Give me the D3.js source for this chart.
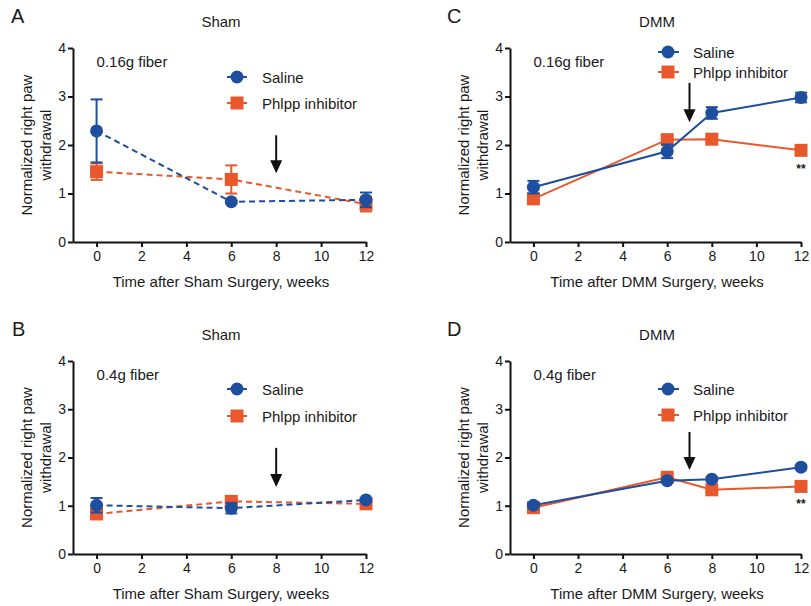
<!DOCTYPE html>
<html>
<head>
<meta charset="utf-8">
<script src="https://cdn.jsdelivr.net/npm/d3@7.9.0/dist/d3.min.js"></script>
<style>
  body { margin: 0; background: #fff; }
  svg text { font-family: "Liberation Sans", Arial, Helvetica, sans-serif; fill: #1a1a1a; }
  .axis path, .axis line { stroke: #111; stroke-width: 2; }
  .axis text { font-size: 14px; fill: #1a1a1a; }
</style>
</head>
<body>
<svg id="fig" width="811" height="606"></svg>
<script>
// weeks after surgery
const weeksSham = [0, 6, 12];
const weeksDMM = [0, 6, 8, 12];

// A: Sham, 0.16g fiber
const shamA_saline = [2.29, 0.83, 0.87];
const shamA_salineErr = [0.65, 0.03, 0.15];
const shamA_phlpp = [1.45, 1.29, 0.78];
const shamA_phlppErr = [0.17, 0.29, 0.15];

// C: DMM, 0.16g fiber
const dmmC_saline = [1.13, 1.87, 2.66, 2.98];
const dmmC_salineErr = [0.13, 0.14, 0.12, 0.1];
const dmmC_phlpp = [0.89, 2.11, 2.12, 1.89];
const dmmC_phlppErr = [0.05, 0.05, 0.05, 0.05];

// B: Sham, 0.4g fiber
const shamB_saline = [1.01, 0.95, 1.12];
const shamB_salineErr = [0.15, 0.11, 0.04];
const shamB_phlpp = [0.83, 1.09, 1.04];
const shamB_phlppErr = [0.05, 0.05, 0.04];

// D: DMM, 0.4g fiber
const dmmD_saline = [1.01, 1.52, 1.55, 1.80];
const dmmD_salineErr = [0.05, 0.04, 0.04, 0.04];
const dmmD_phlpp = [0.96, 1.59, 1.33, 1.40];
const dmmD_phlppErr = [0.04, 0.04, 0.04, 0.04];

const xTicks = [0, 2, 4, 6, 8, 10, 12];
const yTicks = [0, 1, 2, 3, 4];
const seriesNames = ["Saline", "Phlpp inhibitor"];

const blue = "#1d4f9e";
const orange = "#e8582c";

const svg = d3.select("#fig");

function zip(xs, ys, es) {
  return xs.map((x, i) => ({x: x, y: ys[i], e: es[i]}));
}

function drawPanel(p) {
  const g = svg.append("g");
  const x = d3.scaleLinear().domain([-1.05, 12]).range([p.left, p.left + p.w]);
  const y = d3.scaleLinear().domain([0, 4]).range([p.bottom, p.top]);

  // axes
  g.append("g").attr("class", "axis")
    .attr("transform", `translate(0,${p.bottom})`)
    .call(d3.axisBottom(x).tickValues(xTicks).tickFormat(d3.format("d"))
      .tickSize(5).tickSizeOuter(0).tickPadding(4));
  g.append("g").attr("class", "axis")
    .attr("transform", `translate(${p.left},0)`)
    .call(d3.axisLeft(y).tickValues(yTicks).tickFormat(d3.format("d"))
      .tickSize(5).tickSizeOuter(0).tickPadding(2));

  // panel letter + title
  g.append("text").attr("x", p.letterX).attr("y", p.top - 25)
    .attr("font-size", 20).text(p.letter);
  g.append("text").attr("x", p.titleX).attr("y", p.top - 21)
    .attr("text-anchor", "middle").attr("font-size", 15).text(p.title);

  // axis titles
  g.append("text").attr("x", p.titleX).attr("y", p.bottom + 45)
    .attr("text-anchor", "middle").attr("font-size", 15).text(p.xLabel);
  const yl = g.append("text")
    .attr("transform", `translate(${p.left - 41},${(p.top + p.bottom) / 2}) rotate(-90)`)
    .attr("text-anchor", "middle").attr("font-size", 15);
  yl.append("tspan").attr("x", 0).attr("dy", 0).text("Normalized right paw");
  yl.append("tspan").attr("x", 0).attr("dy", 19).text("withdrawal");

  // fiber annotation
  g.append("text").attr("x", x(0)).attr("y", p.top + 19)
    .attr("font-size", 15).text(p.note);

  // arrow
  const ax = x(p.arrow[0]), ay1 = y(p.arrow[1]), ay2 = y(p.arrow[2]);
  g.append("line").attr("x1", ax).attr("x2", ax).attr("y1", ay1).attr("y2", ay2 - 10)
    .attr("stroke", "#111").attr("stroke-width", 2);
  g.append("path").attr("d", `M${ax - 6},${ay2 - 13} L${ax + 6},${ay2 - 13} L${ax},${ay2} Z`)
    .attr("fill", "#111");

  const dash = p.dashed ? "6,4" : null;
  const line = d3.line().x(d => x(d.x)).y(d => y(d.y));

  p.series.slice().reverse().forEach(s => {
    const sg = g.append("g");
    sg.append("path").datum(s.data).attr("d", line)
      .attr("fill", "none").attr("stroke", s.color).attr("stroke-width", 2)
      .attr("stroke-dasharray", dash);
    // error bars
    const eb = sg.selectAll(".eb").data(s.data).join("g");
    eb.append("line").attr("x1", d => x(d.x)).attr("x2", d => x(d.x))
      .attr("y1", d => y(d.y - d.e)).attr("y2", d => y(d.y + d.e))
      .attr("stroke", s.color).attr("stroke-width", 2);
    eb.append("line").attr("x1", d => x(d.x) - 6).attr("x2", d => x(d.x) + 6)
      .attr("y1", d => y(d.y + d.e)).attr("y2", d => y(d.y + d.e))
      .attr("stroke", s.color).attr("stroke-width", 2);
    eb.append("line").attr("x1", d => x(d.x) - 6).attr("x2", d => x(d.x) + 6)
      .attr("y1", d => y(d.y - d.e)).attr("y2", d => y(d.y - d.e))
      .attr("stroke", s.color).attr("stroke-width", 2);
    // markers
    if (s.shape === "circle") {
      sg.selectAll(".m").data(s.data).join("circle")
        .attr("cx", d => x(d.x)).attr("cy", d => y(d.y)).attr("r", 6.5)
        .attr("fill", s.color);
    } else {
      sg.selectAll(".m").data(s.data).join("rect")
        .attr("x", d => x(d.x) - 6.5).attr("y", d => y(d.y) - 6.5)
        .attr("width", 13).attr("height", 13).attr("fill", s.color);
    }
  });

  // significance stars
  if (p.stars) {
    g.append("text").attr("x", x(12)).attr("y", y(p.stars) + 5)
      .attr("text-anchor", "middle").attr("font-size", 12).attr("font-weight", "bold")
      .text("**");
  }

  // legend
  p.series.forEach((s, i) => {
    const ly = p.legendY[i];
    g.append("line").attr("x1", p.legendX - 10).attr("x2", p.legendX + 11)
      .attr("y1", ly).attr("y2", ly).attr("stroke", s.color).attr("stroke-width", 2)
      .attr("stroke-dasharray", p.dashed ? "4,4" : null);
    if (s.shape === "circle") {
      g.append("circle").attr("cx", p.legendX).attr("cy", ly).attr("r", 6.5).attr("fill", s.color);
    } else {
      g.append("rect").attr("x", p.legendX - 6.5).attr("y", ly - 6.5)
        .attr("width", 13).attr("height", 13).attr("fill", s.color);
    }
    g.append("text").attr("x", p.legendX + 25).attr("y", ly + 5.5)
      .attr("font-size", 15).text(seriesNames[i]);
  });
}

const panels = [
  {letter: "A", letterX: 11, title: "Sham", titleX: 221, left: 73, w: 293, top: 48, bottom: 242,
   xLabel: "Time after Sham Surgery, weeks", note: "0.16g fiber", dashed: true,
   arrow: [8, 2.2, 1.42], legendX: 237, legendY: [77, 103], stars: null,
   series: [
     {shape: "circle", color: blue, data: zip(weeksSham, shamA_saline, shamA_salineErr)},
     {shape: "square", color: orange, data: zip(weeksSham, shamA_phlpp, shamA_phlppErr)}
   ]},
  {letter: "C", letterX: 447, title: "DMM", titleX: 657, left: 510, w: 291, top: 48, bottom: 242,
   xLabel: "Time after DMM Surgery, weeks", note: "0.16g fiber", dashed: false,
   arrow: [7, 3.28, 2.47], legendX: 668, legendY: [52, 72], stars: 1.53,
   series: [
     {shape: "circle", color: blue, data: zip(weeksDMM, dmmC_saline, dmmC_salineErr)},
     {shape: "square", color: orange, data: zip(weeksDMM, dmmC_phlpp, dmmC_phlppErr)}
   ]},
  {letter: "B", letterX: 12, title: "Sham", titleX: 221, left: 73, w: 293, top: 361, bottom: 554,
   xLabel: "Time after Sham Surgery, weeks", note: "0.4g fiber", dashed: true,
   arrow: [8, 2.2, 1.39], legendX: 237, legendY: [389, 416], stars: null,
   series: [
     {shape: "circle", color: blue, data: zip(weeksSham, shamB_saline, shamB_salineErr)},
     {shape: "square", color: orange, data: zip(weeksSham, shamB_phlpp, shamB_phlppErr)}
   ]},
  {letter: "D", letterX: 447, title: "DMM", titleX: 657, left: 510, w: 291, top: 361, bottom: 554,
   xLabel: "Time after DMM Surgery, weeks", note: "0.4g fiber", dashed: false,
   arrow: [7, 2.53, 1.74], legendX: 668, legendY: [389, 415], stars: 1.06,
   series: [
     {shape: "circle", color: blue, data: zip(weeksDMM, dmmD_saline, dmmD_salineErr)},
     {shape: "square", color: orange, data: zip(weeksDMM, dmmD_phlpp, dmmD_phlppErr)}
   ]}
];

panels.forEach(drawPanel);
</script>
</body>
</html>
